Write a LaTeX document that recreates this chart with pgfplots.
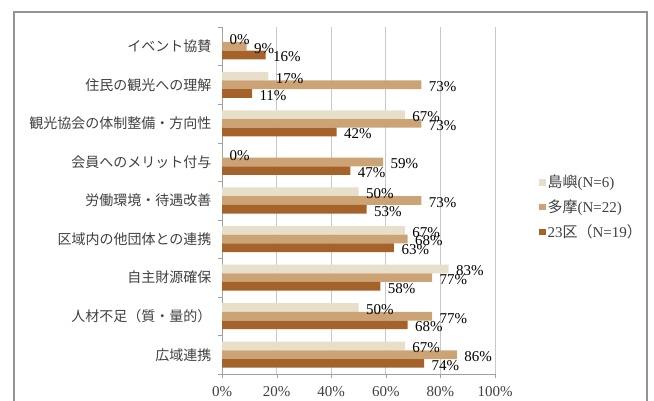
\documentclass[border=0pt]{standalone}
\usepackage{pgfplots}
\pgfplotsset{compat=1.18}
\usepackage{fontspec}
\setmainfont{Liberation Serif}
\newfontfamily\jp{Noto Sans CJK JP}
\definecolor{cShima}{HTML}{E8DFCB}
\definecolor{cTama}{HTML}{CCA374}
\definecolor{cKu}{HTML}{A5632B}
\definecolor{gridc}{HTML}{C8C8C8}
\definecolor{axc}{HTML}{A0A0A0}
\definecolor{txt}{HTML}{404040}
\begin{document}
\begin{tikzpicture}
\useasboundingbox (0bp,0bp) rectangle (654bp,401bp);
\draw[color=gray!85, line width=1.2bp] (14bp,-5bp) -- (14bp,389bp) -- (647bp,389bp) -- (647bp,-5bp);
\begin{axis}[
  at={(222bp,27bp)}, anchor=south west,
  scale only axis, width=273bp, height=347bp,
  xbar, bar width=0.225,
  xmin=0, xmax=100, ymin=-0.5, ymax=8.5,
  axis lines*=left,
  axis line style={draw=axc, line width=0.8bp},
  /pgf/number format/assume math mode=true,
  xtick={0,20,...,100},
  xticklabel={\pgfmathprintnumber{\tick}\%},
  xticklabel style={font=\fontsize{15bp}{17bp}\selectfont, text=txt, yshift=-5bp},
  ytick={0,...,8},
  yticklabels={広域連携, 人材不足（質・量的）, 自主財源確保, 区域内の他団体との連携, 労働環境・待遇改善, 会員へのメリット付与, 観光協会の体制整備・方向性, 住民の観光への理解, イベント協賛},
  yticklabel style={font=\jp\fontsize{14bp}{16bp}\selectfont, text=txt, xshift=-3bp},
  minor ytick={-0.5,0.5,...,8.5},
  tick align=outside,
  major tick length=4bp, minor tick length=4bp,
  major y tick style={draw=none},
  minor y tick style={draw=axc},
  major x tick style={draw=axc},
  xmajorgrids, grid style={draw=gridc, line width=0.8bp},
  nodes near coords={\pgfmathprintnumber{\pgfplotspointmeta}\%},
  every node near coord/.append style={font=\fontsize{15bp}{17bp}\selectfont, text=black, xshift=4bp, yshift=-2bp},
  legend style={at={(1.15,0.585)}, anchor=north west, draw=none, fill=none,
    font=\fontsize{15bp}{17bp}\selectfont, text=txt, row sep=6.5bp,
    cells={anchor=west}},
  legend image code/.code={\fill[#1,draw=none] (0bp,-3.5bp) rectangle (6.5bp,3bp);},
]
\addplot[fill=cShima, draw=none, bar shift=0.225] coordinates {
 (67,0) (50,1) (83,2) (67,3) (50,4) (0,5) (67,6) (17,7) (0,8)};
\addplot[fill=cTama, draw=none, bar shift=0] coordinates {
 (86,0) (77,1) (77,2) (68,3) (73,4) (59,5) (73,6) (73,7) (9,8)};
\addplot[fill=cKu, draw=none, bar shift=-0.225] coordinates {
 (74,0) (68,1) (58,2) (63,3) (53,4) (47,5) (42,6) (11,7) (16,8)};
\legend{{\jp 島嶼}(N=6), {\jp 多摩}(N=22), 23{\jp 区（}N=19{\jp ）}}
\end{axis}
\end{tikzpicture}
\end{document}
